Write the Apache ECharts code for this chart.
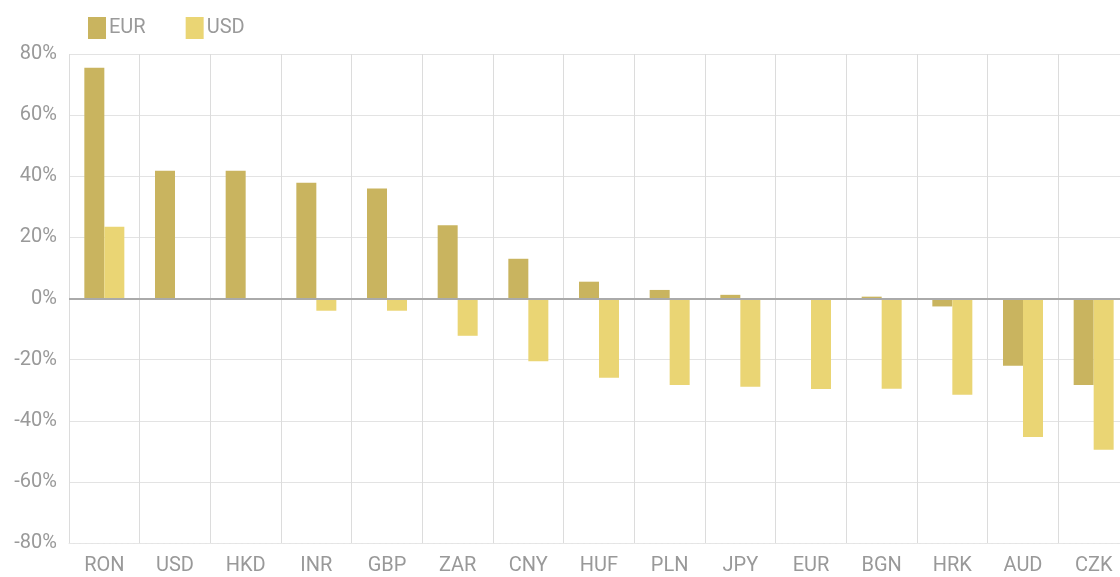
<!DOCTYPE html>
<html>
<head>
<meta charset="utf-8">
<script src="https://cdn.jsdelivr.net/npm/echarts@6/dist/echarts.min.js"></script>
<style>
  html, body { margin: 0; padding: 0; background: #fff; overflow: hidden; }
  /* wider than the window: the last category is cut off at the right edge */
  #chart { width: 1140px; height: 577px; }
</style>
</head>
<body>
<div id="chart"></div>
<script>
  'use strict';

  var categories = ['RON', 'USD', 'HKD', 'INR', 'GBP', 'ZAR', 'CNY', 'HUF', 'PLN', 'JPY', 'EUR', 'BGN', 'HRK', 'AUD', 'CZK'];
  var eurValues = [75.5, 41.8, 41.8, 37.9, 36, 24, 13, 5.5, 2.8, 1.2, 0, 0.6, -2.6, -22, -28.3];
  var usdValues = [23.5, 0, 0, -4, -4, -12.2, -20.5, -25.9, -28.3, -28.9, -29.6, -29.5, -31.5, -45.3, -49.5];
  var seriesNames = ['EUR', 'USD'];
  var seriesColors = ['#c9b45f', '#ead574'];

  var fontFamily = 'Roboto, "Noto Sans", sans-serif';
  var chart = echarts.init(document.getElementById('chart'));

  var option = {
    animation: false,
    textStyle: { fontFamily: fontFamily },
    legend: {
      left: 83,
      top: 12,
      itemWidth: 18,
      itemHeight: 22,
      itemGap: 40,
      icon: 'rect',
      textStyle: { color: '#9a9a9a', fontSize: 20, fontFamily: fontFamily, padding: [0, 0, 0, -2] },
      data: seriesNames
    },
    grid: { left: 69, right: 11, top: 54, bottom: 34 },
    xAxis: {
      type: 'category',
      data: categories,
      axisLine: { onZero: false, lineStyle: { color: '#e6e6e6', type: 'dashed' } },
      axisTick: { show: false },
      axisLabel: { color: '#999', fontSize: 20, margin: 13 },
      splitLine: { show: true, interval: 0, lineStyle: { color: '#dcdcdc', width: 1 } }
    },
    yAxis: {
      type: 'value',
      min: -80,
      max: 80,
      interval: 20,
      axisLine: { show: false },
      axisTick: { show: false },
      axisLabel: { color: '#999', fontSize: 20, margin: 12, formatter: '{value}%' },
      splitLine: { lineStyle: { color: '#e3e3e3', width: 1 } }
    },
    series: [
      {
        name: seriesNames[0],
        type: 'bar',
        data: eurValues,
        barWidth: 20,
        barGap: '0%',
        itemStyle: { color: seriesColors[0] },
        markLine: {
          silent: true,
          symbol: 'none',
          label: { show: false },
          lineStyle: { color: '#aaa', width: 2, type: 'solid' },
          data: [{ yAxis: 0 }]
        },
        z: 2
      },
      {
        name: seriesNames[1],
        type: 'bar',
        data: usdValues,
        barWidth: 20,
        itemStyle: { color: seriesColors[1] },
        z: 2
      }
    ]
  };

  chart.setOption(option);
</script>
</body>
</html>
